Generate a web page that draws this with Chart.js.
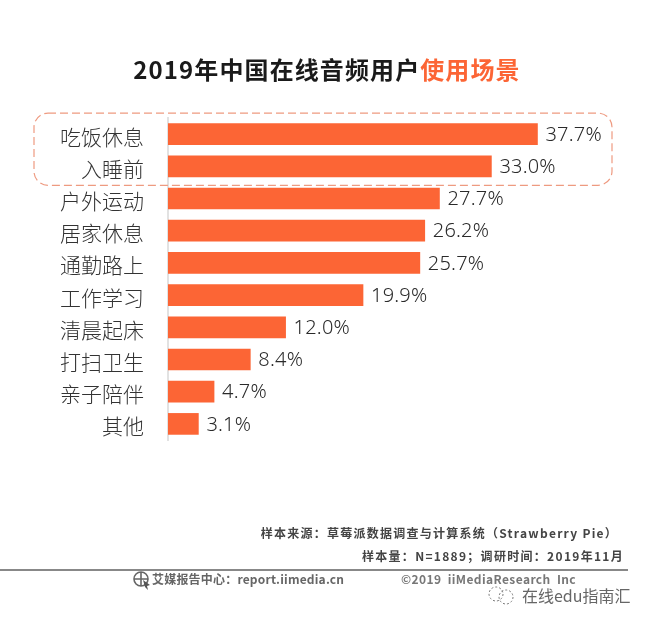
<!DOCTYPE html>
<html>
<head>
<meta charset="utf-8">
<style>
  html, body { margin: 0; background: #fff; }
  canvas { display: block; }
</style>
<script src="https://cdn.jsdelivr.net/npm/chart.js@4/dist/chart.umd.min.js"></script>
</head>
<body>
<canvas id="myBarChart" width="650" height="624"></canvas>
<script>
var categories = ["吃饭休息", "入睡前", "户外运动", "居家休息", "通勤路上", "工作学习", "清晨起床", "打扫卫生", "亲子陪伴", "其他"];
var shares = [37.7, 33.0, 27.7, 26.2, 25.7, 19.9, 12.0, 8.4, 4.7, 3.1];
var titleMain = "2019年中国在线音频用户";
var titleAccent = "使用场景";
// full-width punctuation, written as escapes
var sourceLine = "样本来源\uFF1A草莓派数据调查与计算系统\uFF08Strawberry Pie\uFF09";
var sampleLine = "样本量\uFF1AN=1889\uFF1B调研时间\uFF1A2019年11月";
var siteLine = "艾媒报告中心\uFF1Areport.iimedia.cn";
var copyLine = "©2019  iiMediaResearch  Inc";
var markLine = "在线edu指南汇";

var cjk = '"Noto Sans CJK SC", "Noto Sans", sans-serif';
var orange = "rgb(252, 101, 53)";

function text(ctx, str, x, y, font, color, align, spacing) {
  ctx.font = font;
  ctx.fillStyle = color;
  ctx.textAlign = align || "left";
  ctx.textBaseline = "middle";
  ctx.letterSpacing = spacing || "0px";
  ctx.fillText(str, x, y);
  ctx.letterSpacing = "0px";
}

// category labels sit a bit below the bar centres in the original
var nudgeTicks = {
  id: "nudgeTicks",
  beforeDraw: function (chart) {
    chart.scales.y.getLabelItems().forEach(function (item) {
      if (!item.nudged) {
        item.options.translation[1] += 2.5;
        item.nudged = true;
      }
    });
  }
};

// value labels next to each bar
var valueLabels = {
  id: "valueLabels",
  afterDatasetsDraw: function (chart) {
    var ctx = chart.ctx;
    chart.getDatasetMeta(0).data.forEach(function (bar, i) {
      text(ctx, shares[i].toFixed(1) + "%", bar.x + 8, bar.y + 1, '300 20px "Noto Sans", sans-serif', "#2a2a2a", "left", "0.2px");
    });
  }
};

// title, dashed highlight box, footer
var decorations = {
  id: "decorations",
  afterDraw: function (chart) {
    var ctx = chart.ctx;
    ctx.save();

    var titleFont = "bold 24px " + cjk;
    ctx.font = titleFont;
    ctx.letterSpacing = "1.1px";
    var w1 = ctx.measureText(titleMain).width;
    var w2 = ctx.measureText(titleAccent).width;
    ctx.letterSpacing = "0px";
    var startX = 327 - (w1 + w2) / 2;
    text(ctx, titleMain, startX, 70, titleFont, "#1a1a1a", "left", "1.1px");
    text(ctx, titleAccent, startX + w1, 70, titleFont, orange, "left", "1.1px");

    // dashed box around the first two categories
    var y = chart.scales.y;
    var boxTop = y.getPixelForValue(0) - 21;
    var boxBottom = y.getPixelForValue(1) + 19;
    ctx.beginPath();
    ctx.roundRect(34, boxTop, 578, boxBottom - boxTop, 14);
    ctx.setLineDash([8, 4]);
    ctx.lineWidth = 1.2;
    ctx.strokeStyle = "#ee9a80";
    ctx.stroke();
    ctx.setLineDash([]);

    text(ctx, sourceLine, 618, 533, "bold 12px " + cjk, "#444", "right", "1.25px");
    text(ctx, sampleLine, 624, 556, "bold 12px " + cjk, "#444", "right", "1.3px");

    ctx.fillStyle = "#888";
    ctx.fillRect(0, 569, 628, 2);

    // globe icon
    ctx.strokeStyle = "#666";
    ctx.lineWidth = 1.6;
    ctx.beginPath();
    ctx.arc(141, 579, 7, 0, Math.PI * 2);
    ctx.moveTo(134, 579);
    ctx.lineTo(148, 579);
    ctx.moveTo(141, 572);
    ctx.lineTo(141, 586);
    ctx.stroke();
    ctx.fillStyle = "#555";
    ctx.beginPath();
    ctx.moveTo(143, 580);
    ctx.lineTo(150, 585);
    ctx.lineTo(147, 586);
    ctx.lineTo(148, 590);
    ctx.lineTo(145, 587);
    ctx.closePath();
    ctx.fill();

    text(ctx, siteLine, 152, 579, "bold 12px " + cjk, "#666", "left", "0.2px");
    text(ctx, copyLine, 401, 579, "bold 12px " + cjk, "#777", "left", "0.4px");

    // chat icon
    ctx.strokeStyle = "#777";
    ctx.lineWidth = 1;
    ctx.setLineDash([2, 2]);
    ctx.beginPath();
    ctx.arc(496, 594, 7, 0, Math.PI * 2);
    ctx.stroke();
    ctx.beginPath();
    ctx.arc(506, 597, 7, 0, Math.PI * 2);
    ctx.stroke();
    ctx.setLineDash([]);

    text(ctx, markLine, 522, 596, "16px " + cjk, "#666");
    ctx.restore();
  }
};

var ctx = document.getElementById("myBarChart").getContext("2d");

var myBarChart = new Chart(ctx, {
  type: "bar",
  data: {
    labels: categories,
    datasets: [
      {
        data: shares,
        backgroundColor: orange,
        barThickness: 21,
      },
    ],
  },
  options: {
    indexAxis: "y",
    responsive: false,
    animation: false,
    devicePixelRatio: 1,
    layout: {
      padding: { top: 118, bottom: 184, right: 90, left: 0 },
    },
    plugins: {
      legend: { display: false },
      tooltip: { enabled: false },
    },
    scales: {
      x: {
        display: false,
        min: 0,
        max: 40,
      },
      y: {
        afterFit: function (scale) {
          scale.width = 168;
        },
        grid: { display: false },
        border: { color: "#e2e2e2", width: 2 },
        ticks: {
          color: "#333",
          padding: 16,
          autoSkip: false,
          font: { family: cjk, size: 21, weight: "300" },
        },
      },
    },
  },
  plugins: [nudgeTicks, valueLabels, decorations],
});
</script>
</body>
</html>
